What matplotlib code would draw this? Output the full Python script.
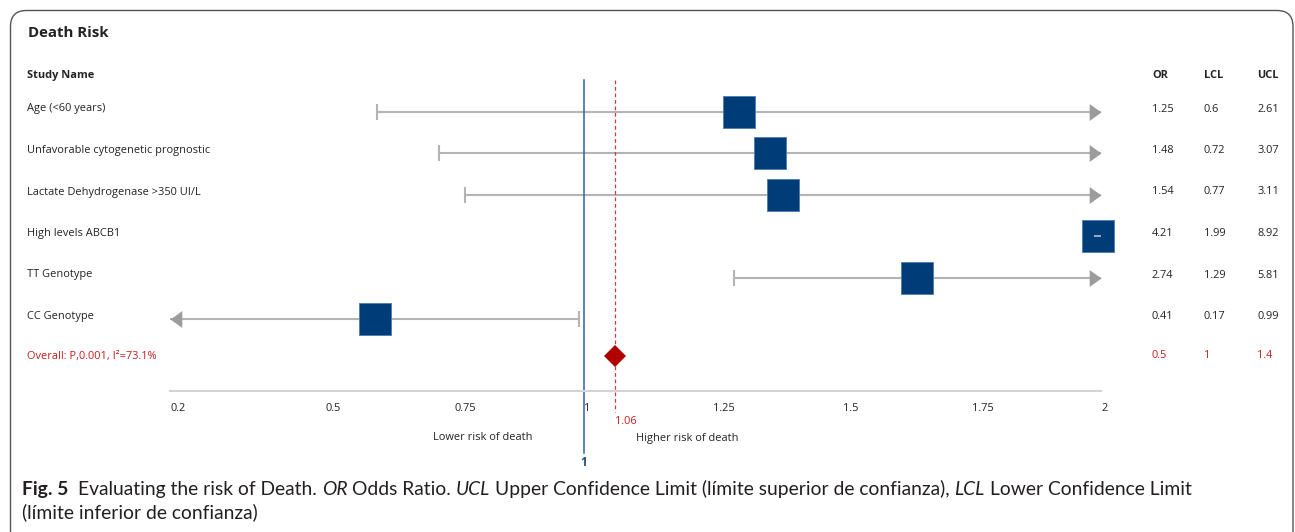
import numpy as np
import matplotlib
matplotlib.use("Agg")
import matplotlib.pyplot as plt
from matplotlib.patches import FancyBboxPatch
from matplotlib.transforms import blended_transform_factory, IdentityTransform, ScaledTranslation

# study rows
studies = ["Age (<60 years)", "Unfavorable cytogenetic prognostic",
           "Lactate Dehydrogenase >350 UI/L", "High levels ABCB1",
           "TT Genotype", "CC Genotype"]
odds = [1.25, 1.48, 1.54, 4.21, 2.74, 0.41]
lcl = [0.6, 0.72, 0.77, 1.99, 1.29, 0.17]
ucl = [2.61, 3.07, 3.11, 8.92, 5.81, 0.99]

# pooled estimate
overall_label = "Overall: P,0.001, I²=73.1%"
overall_vals = ["0.5", "1", "1.4"]
overall_pos = 1.06

ticks = [0.2, 0.5, 0.75, 1, 1.25, 1.5, 1.75, 2]
tick_labels = ["0.2", "0.5", "0.75", "1", "1.25", "1.5", "1.75", "2"]

W, H = 1295, 532
fig = plt.figure(figsize=(W / 100, H / 100), dpi=100)
fig.patch.set_facecolor("white")

FONT = ["Open Sans", "DejaVu Sans"]
CAPFONT = ["Lato", "DejaVu Sans"]
FS = 7.9
TXT = "#222222"
RED = "#c41e1e"
NAVY = "#003d78"
GREY = "#b4b4b4"


def fx(px):
    return px / W


def fy(py):
    return 1 - py / H


# plotting area: x in odds-ratio units, y in row index
x0_px, x1_px = 170.4, 1101
top_px, bot_px = 80, 391
row0_px, step_px = 111.5, 41.5
ax = fig.add_axes([fx(x0_px), fy(bot_px), (x1_px - x0_px) / W, (bot_px - top_px) / H])
ax.set_xlim(0.2, 2)
ax.set_ylim((bot_px - row0_px) / step_px, (top_px - row0_px) / step_px)
ax.set_facecolor("none")
for s in ["top", "left", "right"]:
    ax.spines[s].set_visible(False)
ax.spines["bottom"].set_color("#d4d4d4")
ax.spines["bottom"].set_linewidth(1.5)
ax.set_yticks([])
ax.set_xticks(ticks)
ax.set_xticklabels(tick_labels, fontsize=FS, family=FONT, color=TXT)
for lab in ax.get_xticklabels():
    lab.set_ha("left")
ax.tick_params(axis="x", length=0, pad=8.5)

lo, hi = ax.get_xlim()
rows = np.arange(len(studies))
lcl_c = np.clip(lcl, lo, hi)
ucl_c = np.clip(ucl, lo, hi)
centre = (lcl_c + ucl_c) / 2

arrow_r = [(0, 0), (-0.7, -0.5), (-0.7, 0.5)]
arrow_l = [(0, 0), (0.7, -0.5), (0.7, 0.5)]

for i in rows:
    narrow = (ucl_c[i] - lcl_c[i]) < 0.06
    if narrow:
        # interval shorter than the box: only a short stroke shows on top
        ax.plot([lcl_c[i] - 0.003, ucl_c[i]], [i, i], color="#a8b4c8", lw=1.3, zorder=4,
                solid_capstyle="butt")
        continue
    ax.plot([lcl_c[i], ucl_c[i]], [i, i], color=GREY, lw=1.5, zorder=1,
            solid_capstyle="butt")
    if lcl[i] < lo:
        ax.plot(lo, i, marker=arrow_l, ms=17, color="#9c9c9c", mew=0, zorder=2, clip_on=False)
    else:
        ax.plot(lcl_c[i], i, marker="|", ms=11, mew=1.5, color=GREY, zorder=1)
    if ucl[i] > hi:
        ax.plot(hi, i, marker=arrow_r, ms=17, color="#9c9c9c", mew=0, zorder=2, clip_on=False)
    else:
        ax.plot(ucl_c[i], i, marker="|", ms=11, mew=1.5, color=GREY, zorder=1)

ax.scatter(centre, rows, marker="s", s=500, color=NAVY, edgecolor="#4f7bb0",
           linewidth=0.6, zorder=3, clip_on=False)

# pooled diamond sits a little above its row line
lift = ScaledTranslation(0, 4.5 / 100, fig.dpi_scale_trans)
ax.plot(overall_pos, len(studies), marker="D", ms=11.5, color="#b00000", mew=0,
        transform=ax.transData + lift, zorder=5)

# reference lines
xfig = blended_transform_factory(ax.transData, fig.transFigure)
ax.plot([1, 1], [fy(80), fy(453)], transform=xfig, color="#2f62a8", lw=1.1,
        clip_on=False, zorder=2)
ax.plot([overall_pos, overall_pos], [fy(80), fy(412)], transform=xfig, color="#d03a3a",
        lw=0.9, ls=(0, (3, 2.2)), clip_on=False, zorder=2)
ax.text(overall_pos, fy(422), f"{overall_pos:g}", transform=xfig, ha="left", va="center",
        fontsize=FS, family=FONT, color=RED)
ax.text(0.9, fy(438), "Lower risk of death", transform=xfig, ha="right", va="center",
        fontsize=FS, family=FONT, color=TXT)
ax.text(1.1, fy(438), "Higher risk of death", transform=xfig, ha="left", va="center",
        fontsize=FS, family=FONT, color=TXT)
ax.text(1, fy(463), "1", transform=xfig, ha="center", va="center", fontsize=8.5,
        family=FONT, fontweight="bold", color="#1f4f8a")

# left labels and value columns
yrow = blended_transform_factory(fig.transFigure, ax.transData)
fig.text(fx(28), fy(33), "Death Risk", fontsize=10.8, family=FONT, fontweight="bold",
         color=TXT, va="center")
fig.text(fx(27), fy(76), "Study Name", fontsize=FS, family=FONT, fontweight="bold",
         color=TXT, va="center")
col_px = [1152, 1204, 1257]
for cx, name in zip(col_px, ["OR", "LCL", "UCL"]):
    fig.text(fx(cx), fy(76), name, fontsize=FS, family=FONT, fontweight="bold",
             color=TXT, va="center")

for i, name in enumerate(studies):
    ax.text(fx(27), i, name, transform=yrow, fontsize=FS, family=FONT, color=TXT,
            va="baseline")
    for cx, v in zip(col_px, [odds[i], lcl[i], ucl[i]]):
        ax.text(fx(cx), i, f"{v:g}", transform=yrow, fontsize=FS, family=FONT,
                color=TXT, va="baseline")

n = len(studies)
ax.text(fx(27), n, overall_label, transform=yrow + lift, fontsize=FS, family=FONT,
        color=RED, va="center")
for cx, v in zip(col_px, overall_vals):
    ax.text(fx(cx), n, v, transform=yrow + lift, fontsize=FS, family=FONT,
            color=RED, va="center")

# rounded frame around the figure panel
frame = FancyBboxPatch((10.5, -40), 1282.5, H - 10.5 + 40,
                       boxstyle="round,pad=0,rounding_size=16",
                       transform=IdentityTransform(), fill=False,
                       edgecolor="#555555", lw=1.0)
fig.add_artist(frame)

# caption with mixed styles
renderer = fig.canvas.get_renderer()


def runs(x, y, parts, size=13.9):
    space = None
    for s, weight, style in parts:
        if s == " ":
            if space is None:
                a = fig.text(0, 0, "a a", fontsize=size, family=CAPFONT)
                b = fig.text(0, 0, "aa", fontsize=size, family=CAPFONT)
                space = a.get_window_extent(renderer).width - b.get_window_extent(renderer).width
                a.remove()
                b.remove()
            x += space
            continue
        t = fig.text(fx(x), fy(y), s, fontsize=size, family=CAPFONT, fontweight=weight,
                     fontstyle=style, color="#231f20", va="baseline")
        x = t.get_window_extent(renderer).x1


sp = (" ", "normal", "normal")
line1 = [("Fig. 5", "bold", "normal"), sp, sp, ("Evaluating the risk of Death.", "normal", "normal"), sp,
         ("OR", "normal", "italic"), sp, ("Odds Ratio.", "normal", "normal"), sp,
         ("UCL", "normal", "italic"), sp,
         ("Upper Confidence Limit (límite superior de confianza),", "normal", "normal"), sp,
         ("LCL", "normal", "italic"), sp, ("Lower Confidence Limit", "normal", "normal")]
runs(22, 495, line1)
runs(22, 518, [("(límite inferior de confianza)", "normal", "normal")])

fig.savefig("out.png", dpi=100, facecolor="white")
